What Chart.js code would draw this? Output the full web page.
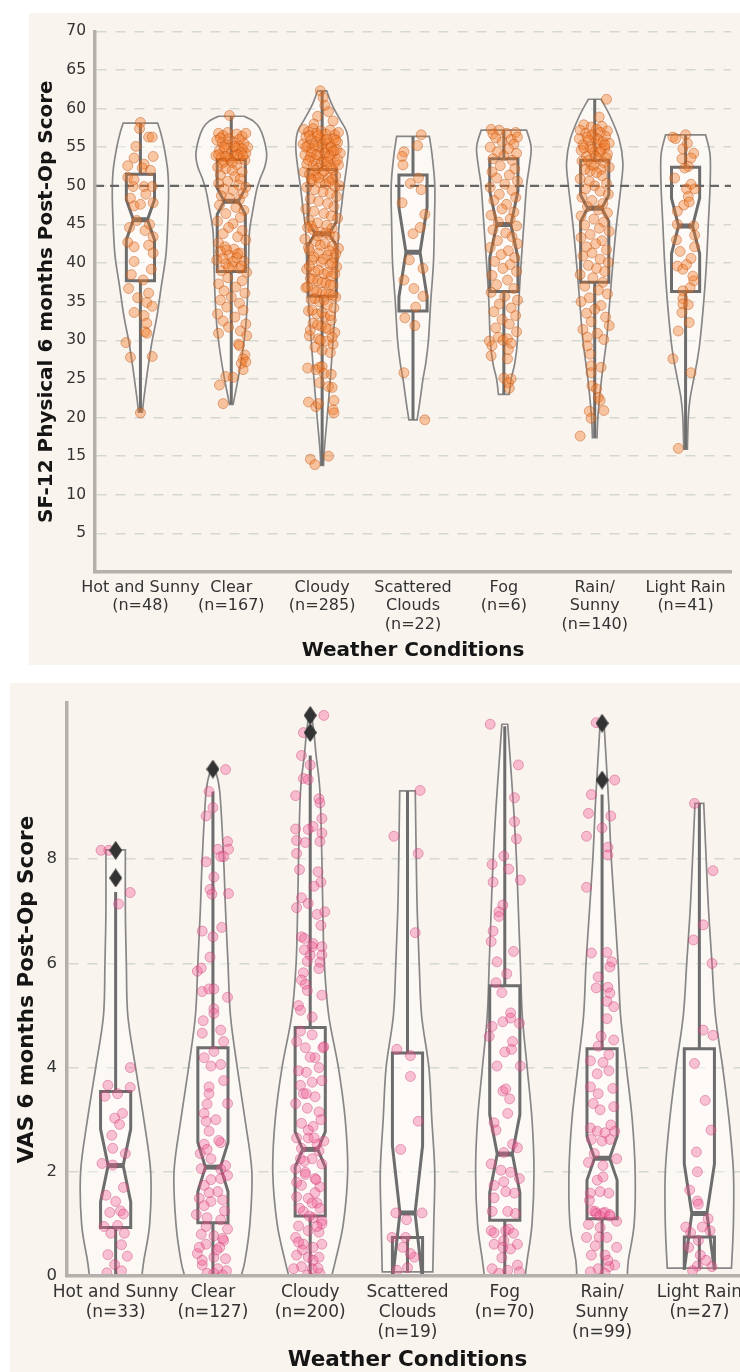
<!DOCTYPE html>
<html>
<head>
<meta charset="utf-8">
<script src="https://cdn.jsdelivr.net/npm/chart.js@4.4.1/dist/chart.umd.min.js"></script>
<style>
  html, body { margin: 0; padding: 0; background: #fff; width: 740px; height: 1372px; overflow: hidden; position: relative; }
  .panel { position: absolute; background: #faf4ef; overflow: hidden; }
  #p1 { left: 29px; top: 13px; width: 711px; height: 652px; }
  #p2 { left: 10px; top: 683px; width: 730px; height: 689px; }
  canvas { display: block; }
</style>
</head>
<body>
<div class="panel" id="p1"><canvas id="c1" width="711" height="652" style="width:711px;height:652px"></canvas></div>
<div class="panel" id="p2"><canvas id="c2" width="760" height="689" style="width:760px;height:689px"></canvas></div>
<script>
const categories = ['Hot and Sunny', 'Clear', 'Cloudy', 'Scattered Clouds', 'Fog', 'Rain/Sunny', 'Light Rain'];
const tickNames = [['Hot and Sunny'], ['Clear'], ['Cloudy'], ['Scattered', 'Clouds'], ['Fog'], ['Rain/', 'Sunny'], ['Light Rain']];
const sfCounts = [48, 167, 285, 22, 6, 140, 41];
const vasCounts = [33, 127, 200, 19, 70, 99, 27];
const sfTicks = [5, 10, 15, 20, 25, 30, 35, 40, 45, 50, 55, 60, 65, 70];
const vasTicks = [0, 2, 4, 6, 8];
const sfRefLine = 50;

// box stats, one value per category
const sfLow = [20.7, 21.7, 13.8, 19.7, 23.0, 17.4, 15.9];
const sfQ1 = [37.7, 38.9, 35.7, 33.8, 36.3, 37.5, 36.3];
const sfNotchLo = [43.0, 46.3, 42.3, 35.6, 40.7, 45.4, 41.2];
const sfMedian = [45.6, 48.0, 43.8, 41.4, 45.0, 47.1, 44.8];
const sfNotchHi = [48.2, 49.7, 45.3, 47.2, 49.3, 48.8, 48.4];
const sfQ3 = [51.5, 53.4, 52.1, 51.4, 53.5, 53.3, 52.4];
const sfHigh = [58.1, 59.0, 62.3, 56.4, 57.2, 61.2, 56.6];

const vasLow = [0, 0, 0, 0.08, 0, 0, 0.15];
const vasQ1 = [0.93, 1.02, 1.15, 0.74, 1.07, 1.10, 0.75];
const vasNotchLo = [1.42, 1.62, 2.09, -0.08, 1.60, 1.84, 0.12];
const vasMedian = [2.12, 2.09, 2.43, 1.21, 2.34, 2.26, 1.20];
const vasNotchHi = [2.82, 2.56, 2.77, 2.50, 3.10, 2.68, 2.15];
const vasQ3 = [3.54, 4.38, 4.77, 4.28, 5.57, 4.36, 4.36];
const vasHigh = [7.37, 9.30, 9.99, 9.31, 10.55, 9.24, 9.07];
const vasOutliers = [[8.17, 7.64], [9.73], [10.76, 10.43], [], [], [10.61, 9.52], []];

// violin outlines: [value, half width in category units]
const sfViolin = [
  [[58.1,0.19],[57,0.22],[55,0.26],[52,0.30],[49,0.31],[45,0.30],[41,0.28],[37,0.23],[33,0.18],[30,0.13],[27,0.09],[24,0.055],[22,0.033],[20.7,0.022]],
  [[59.0,0.14],[58.4,0.24],[57.5,0.31],[56,0.36],[54,0.39],[52.5,0.37],[51,0.32],[49.5,0.28],[47,0.24],[44,0.20],[40,0.19],[36,0.18],[32,0.16],[29,0.13],[26,0.09],[23.5,0.05],[21.7,0.02]],
  [[62.3,0.05],[61,0.09],[60,0.13],[58.5,0.20],[57,0.27],[55,0.29],[52.5,0.27],[50,0.24],[47,0.21],[44,0.18],[40,0.17],[35,0.15],[30,0.12],[25,0.09],[20,0.055],[16,0.025],[13.8,0.015]],
  [[56.4,0.18],[54,0.21],[50,0.24],[45,0.235],[40,0.225],[35,0.195],[30,0.17],[27,0.14],[25,0.11],[22,0.075],[19.7,0.045]],
  [[57.2,0.25],[55,0.30],[52.5,0.28],[50,0.25],[45,0.22],[40,0.19],[35,0.165],[30,0.15],[27,0.12],[25,0.08],[23,0.06]],
  [[61.2,0.07],[59,0.17],[56,0.27],[53,0.31],[50,0.29],[45,0.24],[40,0.20],[35,0.165],[30,0.13],[25,0.075],[20.4,0.037],[17.4,0.025]],
  [[56.6,0.22],[54,0.27],[50,0.27],[45,0.25],[40,0.23],[35,0.20],[30,0.16],[27.5,0.13],[25,0.09],[22.5,0.05],[20,0.03],[15.9,0.02]]
];
const vasViolin = [
  [[8.18,0.10],[7,0.10],[6,0.11],[5,0.125],[4,0.205],[3,0.29],[2,0.36],[1,0.35],[0.3,0.29],[0,0.27]],
  [[9.73,0.02],[9.3,0.07],[8,0.11],[7,0.13],[6,0.155],[5,0.18],[4,0.25],[3,0.33],[2,0.40],[1,0.38],[0.3,0.33],[0,0.29]],
  [[10.76,0.015],[10.4,0.04],[10,0.06],[9.3,0.10],[8,0.12],[7,0.13],[6,0.145],[5,0.19],[4,0.29],[3,0.36],[2,0.385],[1,0.34],[0.3,0.26],[0,0.22]],
  [[9.31,0.08],[8,0.09],[7,0.10],[6,0.12],[5,0.145],[4,0.22],[3,0.25],[2,0.28],[1,0.27],[0.08,0.26]],
  [[10.59,0.03],[9.8,0.06],[9,0.09],[8,0.12],[7,0.14],[6,0.16],[5,0.18],[4,0.23],[3,0.28],[2,0.30],[1,0.28],[0.3,0.23],[0,0.21]],
  [[10.61,0.02],[9.5,0.055],[9,0.07],[8,0.095],[7,0.13],[6,0.165],[5,0.19],[4,0.25],[3,0.31],[2,0.34],[1,0.33],[0.3,0.27],[0,0.26]],
  [[9.07,0.045],[8,0.07],[7,0.095],[6,0.13],[5,0.165],[4,0.24],[3,0.305],[2,0.35],[1,0.35],[0.15,0.33]]
];

// strip points: [jitter in hundredths of a category, value]
const sfHot = [[0,58.2],[-1,57.4],[9,56.3],[13,56.3],[-7,53.6],[14,53.8],[-14,52.6],[4,52.8],[2,52.3],[-14,51.1],[-7,50.8],[-8,49.9],[4,49.9],[13,49.9],[-7,47.4],[0,47.6],[14,47.8],[-11,48.4],[5,44.2],[14,43.4],[-14,42.7],[-7,42.1],[9,42.3],[14,41.3],[-7,40.2],[-13,36.7],[9,36.1],[7,34.9],[13,34.4],[-7,33.6],[4,33.2],[7,32.2],[5,31.1],[-16,29.7],[-11,27.8],[13,27.9],[7,30.9],[0,20.6],[-10,38.5],[12,39.2],[-4,45.5],[10,45.0],[-12,44.6],[3,37.8],[-3,35.5],[11,52.0],[-5,55.1],[6,48.9]];
const sfClear = [[-2,59.1],[-14,56.8],[-9,56.5],[-4,56.9],[6,56.7],[12,56.4],[16,56.8],[-16,55.9],[-10,55.6],[-5,55.3],[2,55.7],[8,55.2],[14,55.5],[18,55.0],[-13,54.6],[-7,54.8],[0,54.4],[5,54.9],[11,54.3],[16,54.2],[-17,53.9],[-11,53.7],[-3,53.6],[3,53.9],[9,53.5],[15,53.3],[-8,53.1],[6,52.7],
  [-12,56.2],[-3,56.1],[9,56.0],[-8,55.0],[4,55.1],[12,54.8],[-14,54.0],[-1,53.4],[7,54.0],[-6,53.8],[13,53.9],[-10,52.9],[1,53.0],
  [-15,52.4],[-6,52.2],[1,52.0],[12,51.8],[-12,51.4],[4,51.2],[10,50.9],[-4,50.6],[-14,50.3],[8,50.1],[16,49.8],[-8,49.6],[2,49.4],[13,49.0],[-11,48.7],[-2,48.4],[9,48.2],
  [-13,47.5],[5,47.2],[14,46.8],[-6,46.4],[10,45.9],[-15,45.4],[2,45.1],[-3,44.6],[12,44.2],[-9,43.8],[7,43.4],[16,43.0],[-14,42.6],
  [-7,42.1],[3,41.8],[-12,41.5],[10,41.3],[-2,41.0],[6,40.7],[-16,40.4],[14,40.2],[-6,39.9],[1,39.6],[9,39.3],[-11,39.0],[17,38.8],
  [-5,41.7],[7,41.2],[-9,40.6],[2,40.2],[11,39.6],[-3,39.4],
  [-4,38.1],[12,37.7],[-14,37.3],[5,36.9],[-8,36.4],[15,36.1],[0,35.6],[-12,35.2],[9,34.8],[-5,34.3],[13,33.9],[-15,33.4],[4,33.0],[-9,32.5],[16,32.1],[-3,31.7],[10,31.2],
  [-14,30.9],[17,30.6],[8,29.5],[9,29.3],[15,28.1],[13,27.6],[16,27.2],[11,27.0],[13,26.2],[-6,25.3],[2,25.2],[-13,24.2],[-9,21.8]];
const sfCloudy = [[-2,62.3],[1,61.4],[3,60.4],[7,59.6],[-5,59.0],[12,58.4],[-9,58.0],
  [-20,57.3],[-15,57.0],[-10,57.4],[-6,56.8],[-1,57.1],[4,56.7],[9,57.2],[14,56.6],[18,56.9],[-18,56.3],[-12,56.0],[-7,55.7],[-2,56.2],[3,55.9],[8,55.5],[13,56.1],[17,55.6],[-21,55.4],[-16,55.1],[-11,54.8],[-4,55.0],[1,54.6],[6,54.9],[11,54.4],[16,54.7],[20,54.2],[-19,54.0],[-13,53.7],[-8,53.4],[-3,53.9],[2,53.2],[9,53.6],[14,53.0],[-17,52.8],[-10,52.6],[-5,52.3],[5,52.5],[12,52.1],[18,52.7],[-20,51.8],[-14,51.5],[-7,51.2],[0,51.6],[7,51.0],[15,51.3],[-11,50.7],[-3,50.4],[4,50.2],[11,50.8],[19,50.0],[-17,49.8],
  [-14,56.5],[-9,55.2],[-5,56.5],[0,55.4],[5,56.0],[10,55.0],[15,55.9],[-18,55.0],[-12,54.3],[-6,54.0],[3,54.2],[8,53.9],[13,54.5],[-15,53.3],[-1,53.0],[6,53.1],[17,53.4],[-8,52.0],[2,51.9],[10,52.3],[-12,50.9],[-4,51.0],[8,50.5],[14,49.9],
  [-8,49.5],[1,49.2],[9,49.0],[16,48.6],[-13,48.3],[-4,48.0],[6,47.7],[13,47.3],[-18,47.0],[-9,46.7],[2,46.4],[10,46.1],[17,45.8],[-14,45.5],[-5,45.2],[5,44.9],
  [-16,44.6],[-10,44.3],[-2,44.0],[8,43.7],[14,43.4],[-19,43.1],[-7,42.8],[3,42.5],[11,42.2],[18,41.9],[-14,41.6],[-4,41.3],[6,41.0],[13,40.7],[-11,40.4],[-1,40.1],[9,39.8],[16,39.5],[-17,39.2],[-8,38.9],[2,38.6],[10,38.3],[-13,38.0],[-5,37.7],[4,37.4],[12,37.1],[-18,36.8],[-9,36.5],[0,36.2],[8,35.9],[15,35.6],[-12,35.3],[-3,35.0],
  [-12,44.8],[-5,43.5],[4,43.9],[11,44.5],[-15,42.0],[-2,42.3],[8,41.6],[15,41.2],[-9,40.8],[1,40.5],[11,40.0],[-14,39.6],[-4,39.1],[6,38.8],[14,38.6],[-10,37.9],[0,37.5],[9,37.2],[-16,36.9],[-6,36.3],[4,36.0],[12,35.8],[-8,35.4],[2,35.2],
  [6,34.6],[13,34.2],[-15,33.8],[-6,33.4],[3,33.0],[10,32.6],[-10,32.2],[-1,31.8],[7,31.4],[14,31.0],[-14,30.6],[-4,30.2],[5,29.9],[12,29.5],[-8,29.1],[0,28.7],[9,28.4],
  [-11,33.9],[0,33.6],[9,33.2],[-5,32.0],[4,31.6],[-13,31.3],[11,30.4],[-2,30.0],
  [-16,26.4],[-7,26.2],[-3,26.5],[0,26.6],[2,25.7],[10,25.6],[-3,24.5],[7,24.0],[11,23.9],[-15,22.0],[-7,21.4],[13,22.2],[12,21.0],[13,20.6],[-4,21.8],
  [-13,14.6],[-8,13.9],[7,15.0]];
const sfScattered = [[9,56.6],[-10,54.4],[-12,53.8],[-11,52.7],[6,51.0],[-3,50.3],[9,49.5],[13,46.3],[0,43.8],[11,39.3],[-10,37.8],[1,36.7],[11,35.7],[-9,32.9],[2,31.9],[-10,25.8],[13,19.7],[-4,40.4],[8,44.6],[-12,47.8],[3,34.3],[5,55.2]];
const sfFog = [[-14,57.3],[-5,57.2],[-12,56.7],[3,56.8],[13,56.9],[-9,56.2],[8,56.0],[15,56.3],[-2,55.7],[11,55.4],[-15,55.0],[5,54.8],[-7,54.4],[14,54.2],[0,53.9],[-12,53.5],[9,53.3],
  [-4,52.6],[12,52.2],[-13,51.8],[6,51.4],[-8,51.0],[15,50.6],[1,50.2],[-15,49.8],[9,49.4],[-5,48.9],[13,48.5],[-11,48.1],[3,47.6],[-2,47.0],[11,46.6],[-14,46.2],[7,45.7],[-6,45.3],
  [14,44.8],[-12,44.3],[2,43.9],[9,43.4],[-7,42.9],[15,42.5],[-15,42.0],[5,41.6],[-3,41.1],[12,40.7],[-10,40.2],[7,39.8],[-1,39.3],[14,38.9],[-13,38.4],
  [4,37.8],[-8,37.2],[11,36.7],[-14,36.2],[1,35.7],[15,35.2],[-5,34.7],[8,34.2],[-11,33.7],[13,33.2],[-2,32.7],[6,32.1],[-9,31.6],[14,31.1],
  [-16,29.9],[-13,29.3],[-6,30.4],[-1,30.0],[4,30.2],[8,29.6],[5,28.8],[-14,28.0],[4,27.6],[0,25.1],[8,25.0],[5,24.5],[6,23.8]];
const sfRain = [[13,61.2],[5,58.9],[-12,57.9],[-4,57.6],[8,57.7],[-16,57.2],[2,57.3],[14,57.1],
  [-10,56.8],[-3,56.6],[6,56.9],[12,56.4],[-17,56.1],[-7,55.9],[0,56.2],[9,55.7],[16,55.5],[-13,55.3],[-5,55.0],[3,55.4],[11,54.9],[-15,54.6],[-1,54.3],[7,54.7],[14,54.1],[-9,53.8],[4,53.5],[-14,53.2],[10,53.0],[-4,52.7],[16,52.4],
  [-8,56.3],[4,56.0],[11,55.3],[-12,54.9],[-3,54.7],[6,54.4],[-7,53.3],[1,53.8],[13,53.6],[-1,52.6],[7,52.1],[-5,51.9],
  [-11,52.1],[2,51.7],[8,51.3],[-16,50.9],[-6,50.6],[13,50.3],[0,50.0],[-10,49.6],[6,49.3],[15,48.9],[-14,48.5],[-3,48.1],[9,47.7],[-8,47.3],[4,46.9],[14,46.5],[-15,46.1],[-1,45.7],[10,45.3],
  [-11,44.9],[5,44.5],[16,44.1],[-5,43.7],[-15,43.3],[8,42.9],[1,42.5],[-9,42.1],[13,41.7],[-3,41.3],[-13,40.9],[6,40.5],[15,40.1],[-7,39.7],[2,39.3],[11,38.9],[-16,38.5],[-2,38.1],
  [9,37.5],[-11,37.0],[4,36.5],[14,36.0],[-6,35.5],[-15,35.0],[7,34.5],[0,34.0],[-9,33.5],[12,33.0],[-4,32.4],[16,31.9],[-13,31.4],[3,30.9],[-8,30.4],[10,30.1],
  [-8,29.3],[-5,28.2],[-4,26.7],[7,26.5],[-4,25.8],[-3,24.1],[2,23.7],[4,22.6],[6,22.2],[-6,20.8],[10,20.9],[-4,19.9],[-16,17.6]];
const sfLight = [[-14,56.3],[-11,56.1],[0,56.6],[-3,54.8],[9,54.2],[6,53.6],[-4,53.5],[3,52.5],[-1,52.3],[6,50.2],[1,49.6],[10,49.6],[3,48.6],[-2,47.5],[-9,46.7],[-9,45.0],[9,44.8],[10,43.6],[10,42.1],[6,40.6],[-9,39.6],[-3,39.2],[1,39.8],[9,37.7],[5,36.8],[-3,36.4],[-3,35.4],[-3,34.7],[3,34.6],[-4,33.6],[4,32.3],[-14,27.6],[6,25.8],[-8,16.0],[-12,51.0],[4,47.9],[-6,41.5],[8,38.3],[-10,43.0],[2,55.5],[-8,31.2]];
const sfPoints = [sfHot, sfClear, sfCloudy, sfScattered, sfFog, sfRain, sfLight];

const vasHot = [[-15,8.17],[-7,8.17],[15,7.36],[3,7.14],[15,4.0],[-8,3.66],[15,3.62],[-11,3.45],[2,3.50],[-1,3.03],[7,3.12],[4,2.91],[-3,2.45],[-14,2.16],[-3,2.13],[0,1.43],[-6,1.22],[5,1.25],[8,1.19],[2,0.97],[-5,0.82],[9,0.82],[6,0.60],[-8,0.41],[12,0.38],[-1,0.22],[-9,0.06],[-10,1.55],[10,2.35],[-4,2.7],[6,0.1],[-12,0.95],[8,1.7]];
const vasClear = [[13,9.72],[-4,9.30],[0,8.99],[-7,8.83],[15,8.34],[5,8.19],[16,8.19],[8,8.05],[11,8.05],[-7,7.95],[1,7.66],[-3,7.42],[-1,7.33],[16,7.34],[9,6.69],[-11,6.62],[0,6.51],[-3,6.12],[-16,5.85],[-12,5.91],[-11,5.46],[-4,5.51],[1,5.51],[15,5.35],[1,5.13],[1,5.04],
  [-11,4.66],[8,4.72],[1,4.31],[-9,4.19],[8,4.06],[-2,4.03],[11,3.75],[-4,3.63],[-4,3.50],[15,3.31],[-9,3.12],[-7,2.97],[-4,2.78],[8,2.56],[-9,2.53],[-6,2.43],[-2,2.25],[13,2.12],[-12,2.06],[15,1.93],[8,1.87],[-9,1.74],[5,1.62],[-14,1.49],[-2,1.43],[10,1.46],[-17,1.18],[-6,1.12],[8,1.08],[15,0.90],[-12,0.80],[1,0.77],[11,0.68],[-7,0.61],[7,0.55],[-16,0.43],[1,0.36],[13,0.33],[-11,0.21],[5,0.14],[-6,0.05],[10,0.02],
  [-13,2.35],[8,2.05],[-2,1.85],[12,1.25],[-7,0.95],[4,0.5],[-11,0.3],[14,0.1],[-4,1.6],[6,2.6],[-9,1.35],[10,0.72],[1,0.05],[-14,0.55],[3,3.0],[-6,3.3],[11,4.5],[-10,4.9]];
const vasCloudy = [[14,10.76],[-7,10.43],[-9,9.99],[0,9.81],[-7,9.55],[-2,9.53],[-15,9.22],[9,9.16],[10,9.08],[12,8.78],[-15,8.58],[3,8.63],[-2,8.57],[12,8.50],[-14,8.36],[-5,8.32],[10,8.34],[-14,8.11],[-11,7.80],[8,7.76],[11,7.56],[4,7.48],[-14,7.07],[-9,7.26],[-2,7.15],[7,6.94],[15,6.99],[11,6.73],[-9,6.51],[-6,6.48],[3,6.38],[2,6.32],[12,6.32],[-6,6.26],[12,6.16],[0,6.16],[-3,6.04],[10,6.02],[9,5.90],[-7,5.82],[-9,5.68],[-5,5.60],[-3,5.48],[12,5.39],[-12,5.19],[-10,5.10],[2,4.97],
  [-14,4.50],[2,4.63],[-5,4.38],[5,4.19],[13,4.38],[-12,3.94],[-4,3.91],[9,4.0],[-10,3.66],[2,3.72],[12,3.75],[-7,3.50],[5,3.44],[-15,3.31],[-3,3.22],[9,3.15],[-9,2.93],[3,2.87],[14,2.59],[-14,2.65],[-2,2.65],[7,2.53],[-10,2.25],[2,2.25],[12,2.15],[-15,2.06],[-5,1.99],[5,1.87],[-9,1.74],[10,1.71],[-14,1.52],[-2,1.49],[7,1.40],[-7,1.24],[3,1.12],[12,1.06],[-12,0.96],[-2,0.87],[9,0.84],[-15,0.74],[-7,0.61],[3,0.55],[12,0.61],[-14,0.40],[-2,0.36],[9,0.36],[-9,0.18],[2,0.14],[-17,0.14],[10,0.05],[-3,0.02],
  [-5,1.95],[5,1.6],[-11,1.3],[9,2.4],[-2,2.8],[12,1.0],[-8,0.5],[3,0.3],[-14,1.8],[7,0.95],[-4,3.5],[11,3.0],[0,4.2],[-10,4.7],[14,4.4],[-6,2.2],[2,1.4],[8,0.15],[-12,0.65],[4,2.65],[-1,1.15],[6,1.85],[-9,2.45],[10,1.3]];
const vasScattered = [[13,9.32],[-14,8.44],[11,8.11],[8,6.59],[-11,4.35],[3,4.23],[3,3.83],[11,2.97],[-7,2.43],[-12,1.21],[15,1.21],[-1,1.08],[-16,0.74],[-2,0.74],[7,0.36],[3,0.43],[-11,0.11],[0,0.16],[-5,0.55]];
const vasFog = [[-15,10.59],[14,9.81],[10,9.18],[10,8.72],[12,8.39],[-13,7.90],[-1,8.06],[4,7.81],[-12,7.56],[16,7.60],[-2,7.12],[-6,6.99],[-12,6.62],[-14,6.42],[9,6.23],[-8,6.03],[-9,5.63],[-3,5.44],[6,5.05],
  [-13,4.79],[-2,4.88],[6,4.95],[15,4.85],[-16,4.60],[0,4.30],[7,4.35],[-8,4.03],[16,4.03],[-2,3.55],[1,3.59],[3,3.12],[-11,2.94],[8,2.53],[13,2.46],[-1,2.37],[-14,2.15],[-4,2.03],[6,1.99],[15,1.87],[-11,1.74],[-1,1.81],[1,1.62],[10,1.59],[3,1.24],[-13,1.24],[-14,0.87],[-11,0.83],[1,0.87],[4,0.90],[-11,0.61],[-1,0.68],[-2,0.55],[6,0.52],[13,0.61],[-13,0.14],[3,0.11],[13,0.21],[15,0.08],[-6,0.05],
  [5,3.4],[-9,2.8],[11,1.2],[-3,0.35],[8,4.5],[-11,1.5],[2,5.8],[-6,6.9],[9,0.82]];
const vasRain = [[-6,10.62],[13,9.52],[-11,9.24],[-14,8.88],[9,8.83],[0,8.60],[-16,8.44],[6,8.23],[6,8.08],[-16,7.46],[-11,6.20],[5,6.21],[10,6.03],[8,5.93],[-4,5.74],[-6,5.53],[6,5.54],[8,5.43],[5,5.27],[12,5.17],[5,4.94],
  [12,4.53],[-4,4.41],[7,4.25],[-12,4.13],[1,4.10],[-5,3.88],[7,3.94],[-12,3.63],[-4,3.50],[-9,3.31],[-2,3.19],[12,3.25],[-12,2.84],[-5,2.78],[3,2.75],[13,2.78],[-11,2.62],[0,2.59],[8,2.62],[15,2.25],[-14,2.18],[1,2.12],[-5,1.84],[-12,1.59],[-2,1.62],[7,1.59],[-7,1.24],[1,1.21],[8,1.18],[-2,1.15],[-14,0.99],[15,1.05],[-2,0.93],[-16,0.74],[-7,0.58],[5,0.74],[15,0.55],[-11,0.40],[3,0.40],[13,0.21],[7,0.18],[-4,0.14],[-12,0.08],[3,0.05],
  [-6,1.2],[3,1.22],[8,1.15],[-10,1.25],[1,1.9],[-8,2.35],[11,3.6],[-3,0.75],[6,0.3],[-13,1.45],[9,2.9],[-1,4.6]];
const vasLight = [[-5,9.07],[14,7.78],[4,6.74],[-6,6.45],[13,6.00],[4,4.72],[14,4.62],[-5,4.08],[6,3.37],[12,2.80],[-3,2.38],[-2,1.44],[-1,1.38],[-14,0.94],[3,0.94],[11,0.87],[-9,0.83],[-1,0.68],[-11,0.55],[1,0.40],[-2,0.19],[13,0.18],[-10,1.65],[7,0.3],[-2,2.0],[9,1.1],[-7,0.1]];
const vasPoints = [vasHot, vasClear, vasCloudy, vasScattered, vasFog, vasRain, vasLight];

Chart.defaults.font.family = 'DejaVu Sans';
Chart.defaults.color = '#333';

const BOX_HALF = 0.155;

function catmull(ctx, pts) {
  for (let k = 0; k < pts.length - 1; k++) {
    const p0 = pts[k - 1] || pts[k], p1 = pts[k], p2 = pts[k + 1], p3 = pts[k + 2] || p2;
    ctx.bezierCurveTo(
      p1[0] + (p2[0] - p0[0]) / 6, p1[1] + (p2[1] - p0[1]) / 6,
      p2[0] - (p3[0] - p1[0]) / 6, p2[1] - (p3[1] - p1[1]) / 6,
      p2[0], p2[1]);
  }
}

function drawViolin(ctx, xs, ys, i, prof) {
  const right = prof.map(([v, w]) => [xs.getPixelForValue(i + w), ys.getPixelForValue(v)]);
  const left = prof.map(([v, w]) => [xs.getPixelForValue(i - w), ys.getPixelForValue(v)]).reverse();
  ctx.beginPath();
  ctx.moveTo(right[0][0], right[0][1]);
  catmull(ctx, right);
  ctx.lineTo(left[0][0], left[0][1]);
  catmull(ctx, left);
  ctx.closePath();
  ctx.fillStyle = 'rgba(255,255,255,0.35)';
  ctx.fill();
  ctx.lineWidth = 1.7;
  ctx.strokeStyle = '#878787';
  ctx.stroke();
}

function drawBox(ctx, xs, ys, i, s) {
  const px = d => xs.getPixelForValue(i + d);
  const py = v => ys.getPixelForValue(v);
  const L = px(-BOX_HALF), R = px(BOX_HALF), Ln = px(-BOX_HALF / 2), Rn = px(BOX_HALF / 2), C = px(0);
  ctx.strokeStyle = '#6d6d6d';
  ctx.lineWidth = 3;
  ctx.beginPath();
  ctx.moveTo(C, py(s.low)); ctx.lineTo(C, py(s.q1));
  ctx.moveTo(C, py(s.q3)); ctx.lineTo(C, py(s.high));
  ctx.stroke();
  ctx.beginPath();
  ctx.moveTo(L, py(s.q1));
  ctx.lineTo(R, py(s.q1));
  ctx.lineTo(R, py(s.nlo));
  ctx.lineTo(Rn, py(s.med));
  ctx.lineTo(R, py(s.nhi));
  ctx.lineTo(R, py(s.q3));
  ctx.lineTo(L, py(s.q3));
  ctx.lineTo(L, py(s.nhi));
  ctx.lineTo(Ln, py(s.med));
  ctx.lineTo(L, py(s.nlo));
  ctx.closePath();
  ctx.fillStyle = 'rgba(255,255,255,0.3)';
  ctx.fill();
  ctx.stroke();
  ctx.lineWidth = 5;
  ctx.beginPath();
  ctx.moveTo(Ln, py(s.med)); ctx.lineTo(Rn, py(s.med));
  ctx.stroke();
}

function makeShapes(violins, stats, refLine) {
  return {
    id: 'shapes',
    beforeDatasetsDraw(chart) {
      const { ctx, chartArea: a, scales: { x, y } } = chart;
      ctx.save();
      ctx.beginPath();
      ctx.rect(a.left, a.top - 4, a.right - a.left, a.bottom - a.top + 4);
      ctx.clip();
      violins.forEach((prof, i) => drawViolin(ctx, x, y, i, prof));
      stats.med.forEach((m, i) => drawBox(ctx, x, y, i, {
        low: stats.low[i], q1: stats.q1[i], nlo: stats.nlo[i], med: m,
        nhi: stats.nhi[i], q3: stats.q3[i], high: stats.high[i]
      }));
      if (refLine != null) {
        ctx.setLineDash([9, 6]);
        ctx.lineWidth = 2.2;
        ctx.strokeStyle = '#666';
        ctx.beginPath();
        ctx.moveTo(a.left, y.getPixelForValue(refLine));
        ctx.lineTo(a.right, y.getPixelForValue(refLine));
        ctx.stroke();
      }
      ctx.restore();
    }
  };
}

function stripData(groups) {
  const out = [];
  groups.forEach((g, i) => g.forEach(([dx, v]) => out.push({ x: i + dx / 100, y: v })));
  return out;
}

function diamond(w, h, color) {
  const c = document.createElement('canvas');
  c.width = w; c.height = h;
  const g = c.getContext('2d');
  g.fillStyle = color;
  g.beginPath();
  g.moveTo(w / 2, 0); g.lineTo(w, h / 2); g.lineTo(w / 2, h); g.lineTo(0, h / 2);
  g.closePath();
  g.fill();
  return c;
}

function buildChart(id, cfg) {
  return new Chart(document.getElementById(id), {
    type: 'scatter',
    data: { datasets: cfg.datasets },
    options: {
      responsive: false,
      maintainAspectRatio: false,
      animation: false,
      events: [],
      layout: { padding: { top: cfg.padTop, right: cfg.padRight, left: 0, bottom: 0 } },
      plugins: { legend: { display: false }, tooltip: { enabled: false } },
      scales: {
        x: {
          type: 'linear', min: -0.5, max: 6.5,
          grid: { display: false, drawTicks: false },
          border: { color: '#b5b0ab', width: 3.5, z: 1 },
          afterBuildTicks: s => { s.ticks = categories.map((c, i) => ({ value: i })); },
          afterFit: s => { s.height = cfg.xHeight; },
          ticks: {
            autoSkip: false, maxRotation: 0, minRotation: 0, padding: cfg.xPad, color: '#333',
            font: { size: cfg.tickSize, lineHeight: cfg.xLine },
            callback: v => tickNames[v].concat('(n=' + cfg.counts[v] + ')')
          },
          title: {
            display: true, text: 'Weather Conditions', color: '#151515',
            font: { size: cfg.titleSize, weight: 'bold', lineHeight: 1.1 },
            padding: { top: 0, bottom: cfg.xTitlePad }
          }
        },
        y: {
          min: 0, max: cfg.yMax,
          afterBuildTicks: s => { s.ticks = cfg.yTicks.map(v => ({ value: v })); },
          afterFit: s => { s.width = cfg.yWidth; },
          grid: {
            drawTicks: false, lineWidth: 1.5,
            color: c => (c.tick && c.tick.value === 0) ? 'rgba(0,0,0,0)' : '#d4d8d0'
          },
          border: { color: '#b5b0ab', width: 3.5, dash: [10, 9], z: 1 },
          ticks: { padding: cfg.yPad, color: '#333', font: { size: cfg.yTickSize } },
          title: {
            display: true, text: cfg.yTitle, color: '#151515',
            font: { size: cfg.yTitleSize, weight: 'bold', lineHeight: 1.2 },
            padding: { top: cfg.yTitlePad, bottom: 0 }
          }
        }
      }
    },
    plugins: [makeShapes(cfg.violins, cfg.stats, cfg.refLine)]
  });
}

buildChart('c1', {
  padTop: 12, padRight: 9, xHeight: 93, yWidth: 66, xPad: 6, xLine: 1.17, yPad: 9,
  tickSize: 16, yTickSize: 15.5, titleSize: 20, yTitleSize: 20, xTitlePad: 3, yTitlePad: 6,
  yMax: 70, yTicks: sfTicks, counts: sfCounts,
  yTitle: 'SF-12 Physical 6 months Post-Op Score',
  violins: sfViolin, refLine: sfRefLine,
  stats: { low: sfLow, q1: sfQ1, nlo: sfNotchLo, med: sfMedian, nhi: sfNotchHi, q3: sfQ3, high: sfHigh },
  datasets: [{
    data: stripData(sfPoints),
    pointRadius: 5,
    pointBackgroundColor: 'rgba(243,122,40,0.4)',
    pointBorderColor: 'rgba(185,70,0,0.5)',
    pointBorderWidth: 0.8
  }]
});

buildChart('c2', {
  padTop: 7, padRight: 22, xHeight: 96, yWidth: 57, xPad: 7, xLine: 1.16, yPad: 10,
  tickSize: 17, yTickSize: 16.5, titleSize: 21.5, yTitleSize: 21.5, xTitlePad: 0, yTitlePad: 5,
  yMax: 11, yTicks: vasTicks, counts: vasCounts,
  yTitle: 'VAS 6 months Post-Op Score',
  violins: vasViolin, refLine: null,
  stats: { low: vasLow, q1: vasQ1, nlo: vasNotchLo, med: vasMedian, nhi: vasNotchHi, q3: vasQ3, high: vasHigh },
  datasets: [{
    data: vasOutliers.flatMap((arr, i) => arr.map(v => ({ x: i, y: v }))),
    pointStyle: diamond(13, 19, '#333'),
    pointRadius: 9
  }, {
    data: stripData(vasPoints),
    pointRadius: 5,
    pointBackgroundColor: 'rgba(242,95,150,0.38)',
    pointBorderColor: 'rgba(190,40,100,0.45)',
    pointBorderWidth: 0.8
  }]
});
</script>
</body>
</html>
